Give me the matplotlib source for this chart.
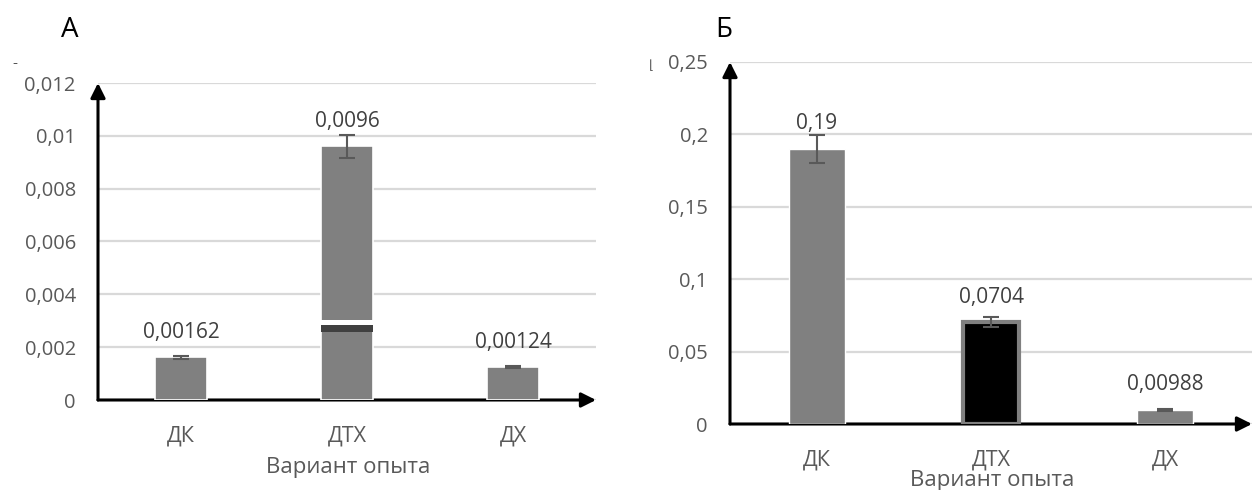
import matplotlib.pyplot as plt

plt.rcParams['font.family'] = ['Open Sans', 'DejaVu Sans']

categories = ['ДК', 'ДТХ', 'ДХ']

# panel A
a_values = [0.00162, 0.0096, 0.00124]
a_errors = [0.00005, 0.00045, 0.00004]
a_labels = ['0,00162', '0,0096', '0,00124']
a_ticks = [0, 0.002, 0.004, 0.006, 0.008, 0.01, 0.012]
a_ticklabels = ['0', '0,002', '0,004', '0,006', '0,008', '0,01', '0,012']
# the dark band and white gap seen inside the ДТХ bar
a_band = [0.00257, 0.00283]
a_gap = [0.00283, 0.00302]

# panel Б
b_values = [0.19, 0.0704, 0.00988]
b_errors = [0.0095, 0.0035, 0.0006]
b_labels = ['0,19', '0,0704', '0,00988']
b_ticks = [0, 0.05, 0.1, 0.15, 0.2, 0.25]
b_ticklabels = ['0', '0,05', '0,1', '0,15', '0,2', '0,25']

W, H = 1256, 490
fig = plt.figure(figsize=(W / 100, H / 100), dpi=100)

gray = '#808080'
tickcol = '#595959'
labcol = '#404040'
gridcol = '#d9d9d9'


def setup(ax, ticks, ticklabels, ymax):
    x = range(len(categories))
    ax.set_xlim(-0.5, 2.5)
    ax.set_ylim(0, ymax)
    for s in ax.spines.values():
        s.set_visible(False)
    ax.set_yticks(ticks)
    ax.set_yticklabels(ticklabels, color=tickcol, fontsize=14.5)
    ax.set_xticks(list(x))
    ax.set_xticklabels(categories, color=tickcol, fontsize=15.5)
    ax.tick_params(axis='y', length=0, pad=16)
    ax.tick_params(axis='x', length=0, pad=18)
    for t in ticks:
        ax.axhline(t, color=gridcol, lw=1.6, zorder=0)
    ax.annotate('', xy=(0, 1.0), xytext=(0, 0), xycoords='axes fraction',
                arrowprops=dict(arrowstyle='-|>', color='black', lw=2.2,
                                mutation_scale=22, shrinkA=0, shrinkB=0), zorder=1)
    ax.annotate('', xy=(1.0, 0), xytext=(0, 0), xycoords='axes fraction',
                arrowprops=dict(arrowstyle='-|>', color='black', lw=2.2,
                                mutation_scale=22, shrinkA=0, shrinkB=0), zorder=1)


# ---- A ----
axA = fig.add_axes([98 / W, (H - 400) / H, 498 / W, 317 / H])
setup(axA, a_ticks, a_ticklabels, 0.012)
x = list(range(len(categories)))
axA.bar(x, a_values, width=0.31, color=gray, edgecolor='white', lw=1.2, zorder=2)
axA.bar(1, a_band[1] - a_band[0], bottom=a_band[0], width=0.31, color='#404040',
        edgecolor='none', zorder=3)
axA.bar(1, a_gap[1] - a_gap[0], bottom=a_gap[0], width=0.33, color='white',
        edgecolor='none', zorder=3)
axA.errorbar(x, a_values, yerr=a_errors, fmt='none', ecolor=tickcol, elinewidth=1.5,
             capsize=6, capthick=1.5, zorder=4)
for xi, v, lab in zip(x, a_values, a_labels):
    axA.annotate(lab, (xi, v), xytext=(0, 18), textcoords='offset points',
                 ha='center', va='center', fontsize=15, color=labcol)
fig.text(348 / W, 1 - 467 / H, 'Вариант опыта', ha='center', va='center',
         fontsize=16, color=tickcol)
fig.text(70 / W, 1 - 30 / H, 'А', ha='center', va='center', fontsize=20, color='black')
fig.text(15 / W, 1 - 64 / H, '-', ha='center', va='center', fontsize=11, color='#555555')

# ---- Б ----
axB = fig.add_axes([730 / W, (H - 424) / H, 522 / W, 362 / H])
setup(axB, b_ticks, b_ticklabels, 0.25)
b_colors = [gray, 'black', gray]
b_edges = ['white', gray, 'white']
for xi, v, c, e in zip(x, b_values, b_colors, b_edges):
    axB.bar(xi, v, width=0.32, color=c, edgecolor=e, lw=3.0 if c == 'black' else 1.0,
            zorder=2)
axB.errorbar(x, b_values, yerr=b_errors, fmt='none', ecolor=tickcol, elinewidth=1.5,
             capsize=6, capthick=1.5, zorder=4)
for xi, v, lab in zip(x, b_values, b_labels):
    axB.annotate(lab, (xi, v), xytext=(0, 18), textcoords='offset points',
                 ha='center', va='center', fontsize=15, color=labcol)
fig.text(992 / W, 1 - 480 / H, 'Вариант опыта', ha='center', va='center',
         fontsize=16, color=tickcol)
fig.text(724 / W, 1 - 30 / H, 'Б', ha='center', va='center', fontsize=20, color='black')
fig.text(651 / W, 1 - 66 / H, '⌊', ha='center', va='center', fontsize=9,
         color='#555555', family='DejaVu Sans')

fig.savefig('out.png', dpi=100)
